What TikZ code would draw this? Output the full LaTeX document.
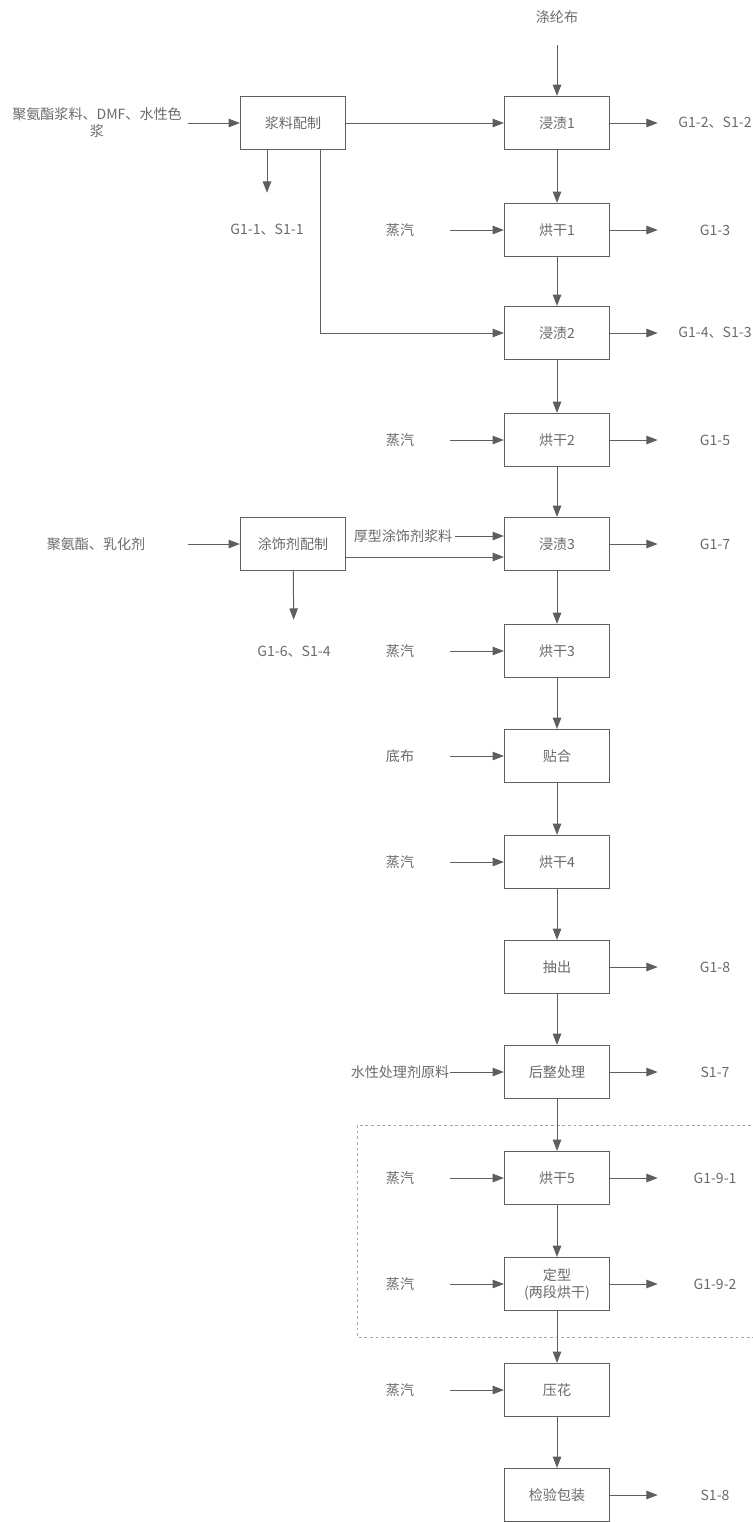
\documentclass[tikz,border=0pt]{standalone}
\usepackage{fontspec}
\setmainfont{Noto Sans CJK SC}
\usepackage{tikz}
\usetikzlibrary{positioning,arrows.meta}
\usepackage{xcolor}
\definecolor{flowGray}{HTML}{5E5E5E}
\definecolor{labelGray}{HTML}{6A6A6A}

\begin{document}
\begin{tikzpicture}[
    x=0.025cm, y=-0.025cm,
    procBox/.style={rectangle, draw=flowGray, line width=0.8pt, fill=white, text=labelGray, font=\fontsize{10}{12}\selectfont, align=center, minimum width=2.625cm, minimum height=1.325cm, inner sep=1pt},
    inLabel/.style={text=labelGray, font=\fontsize{10}{12}\selectfont, align=center, minimum width=2.5cm, inner sep=0pt},
    outLabel/.style={text=labelGray, font=\fontsize{10}{12}\selectfont, align=center, minimum width=2.85cm, inner sep=0pt},
    flowArrow/.style={draw=flowGray, line width=0.7pt, -{Triangle[length=8pt,width=6pt]}},
    groupFrame/.style={draw=black!35, line width=0.6pt, dash pattern=on 2pt off 2pt}
]
    \useasboundingbox (0,0) rectangle (753,1522);
    \coordinate (leftCol) at (400,0);
    \coordinate (rightCol) at (715,0);

    \draw[groupFrame] (357,1125) rectangle (775,1337);

    \foreach \nm/\yy/\txt in {dip1/123/浸渍1, dry1/230/烘干1, dip2/333/浸渍2, dry2/440/烘干2, dip3/544/浸渍3, dry3/651/烘干3, laminate/756/贴合, dry4/862/烘干4, extract/967/抽出, finish/1072/后整处理, dry5/1178/烘干5, setting/1284/{定型\\(两段烘干)}, emboss/1390/压花, inspect/1495/检验包装}
        \node[procBox] (\nm) at (557,\yy) {\txt};

    \foreach \a/\b in {dip1/dry1, dry1/dip2, dip2/dry2, dry2/dip3, dip3/dry3, dry3/laminate, laminate/dry4, dry4/extract, extract/finish, finish/dry5, dry5/setting, setting/emboss, emboss/inspect}
        \draw[flowArrow] (\a) -- (\b);

    \node[inLabel, minimum height=1.4cm] (baseCloth) at (557,17) {涤纶布};
    \draw[flowArrow] (baseCloth) -- (dip1);

    \foreach \nm/\tgt/\txt in {steam1/dry1/蒸汽, steam2/dry2/蒸汽, steam3/dry3/蒸汽, backCloth/laminate/底布, steam4/dry4/蒸汽, agentIn/finish/水性处理剂原料, steam5/dry5/蒸汽, steam6/setting/蒸汽, steam7/emboss/蒸汽}{
        \node[inLabel] (\nm) at (leftCol |- \tgt) {\txt};
        \draw[flowArrow] (\nm) -- (\tgt);
    }

    \foreach \nm/\src/\txt in {out1/dip1/G1-2、S1-2, out2/dry1/G1-3, out3/dip2/G1-4、S1-3, out4/dry2/G1-5, out5/dip3/G1-7, out6/extract/G1-8, out7/finish/S1-7, out8/dry5/G1-9-1, out9/setting/G1-9-2, out10/inspect/S1-8}{
        \node[outLabel] (\nm) at (rightCol |- \src) {\txt};
        \draw[flowArrow] (\src) -- (\nm);
    }

    \node[procBox] (mixA) at (293,123) {浆料配制};
    \node[inLabel, minimum width=4.55cm] (rawA) at (97,123) {聚氨酯浆料、DMF、水性色\\浆};
    \node[inLabel, minimum height=1.85cm] (wasteA) at (267,230) {G1-1、S1-1};
    \draw[flowArrow] (rawA) -- (mixA);
    \draw[flowArrow] (mixA) -- (dip1);
    \draw[flowArrow] (mixA.south -| wasteA) -- (wasteA);
    \draw[flowArrow] ([xshift=0.675cm]mixA.south) |- (dip2.west);

    \node[procBox] (mixB) at (293,544) {涂饰剂配制};
    \node[inLabel, minimum width=4.6cm] (rawB) at (96,544) {聚氨酯、乳化剂};
    \node[inLabel, minimum height=1.6cm] (wasteB) at (294,652) {G1-6、S1-4};
    \node[inLabel, minimum width=2.6cm] (coatIn) at (403,536) {厚型涂饰剂浆料};
    \draw[flowArrow] (rawB) -- (mixB);
    \draw[flowArrow] (mixB) -- (wasteB);
    \draw[flowArrow] (coatIn) -- (coatIn -| dip3.west);
    \draw[flowArrow] ([yshift=-0.325cm]mixB.east) -- ([yshift=-0.325cm]dip3.west);
\end{tikzpicture}
\end{document}
